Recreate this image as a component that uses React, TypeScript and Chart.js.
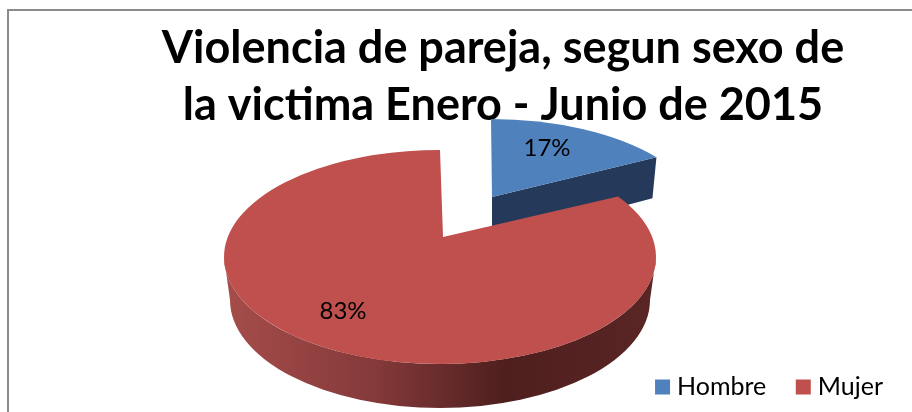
import React, { useEffect, useRef } from "react";
import { Chart, registerables } from "chart.js";

Chart.register(...registerables);

const categories = ["Hombre", "Mujer"];
const shares = [17, 83];
const faceColors = ["#4F81BD", "#C0504D"];
const titleLines = ["Violencia de pareja, segun sexo de", "la victima Enero - Junio de 2015"];

// Projection of each flat slice onto the tilted, exploded 3D view (Excel-like perspective).
const sliceViews = [
  { cx: 491, cy: 226, rx: 216, ry: 107, tipX: 492, tipY: 197, warp: 0.655, labelX: 547, labelY: 148 },
  { cx: 440, cy: 257, rx: 216, ry: 107, tipX: 443, tipY: 237, warp: 0.8, labelX: 343, labelY: 311 },
];

const project = (theta: number, warp: number) => Math.atan2(warp * Math.sin(theta), Math.cos(theta));
const toCanvas = (theta: number, warp: number) => {
  let phi = project(theta, warp);
  if (theta > 0 && phi < 0) phi += Math.PI * 2;
  return phi - Math.PI / 2;
};

const piePlugin = {
  id: "tiltedPie",
  beforeDraw(chart: any) {
    const { ctx } = chart;
    ctx.save();
    ctx.strokeStyle = "#8C8C8C";
    ctx.lineWidth = 2;
    ctx.beginPath();
    ctx.moveTo(8, 412);
    ctx.lineTo(8, 10);
    ctx.lineTo(912, 10);
    ctx.stroke();
    ctx.restore();
    const legend = chart.legend;
    legend.top = 339.5;
    legend.right = 918;
  },
  beforeDatasetsDraw(chart: any) {
    const { ctx } = chart;
    const arcs = chart.getDatasetMeta(0).data;
    arcs.forEach((arc: any, i: number) => {
      const v = sliceViews[i];
      const color = chart.data.datasets[0].backgroundColor[i];
      const a0 = arc.startAngle + Math.PI / 2;
      const a1 = arc.endAngle + Math.PI / 2;
      const c0 = toCanvas(a0, v.warp);
      const c1 = toCanvas(a1, v.warp);
      ctx.save();
      if (i === 0) {
        // radial side wall of the small slice
        const ex = v.cx + v.rx * Math.cos(c1);
        const ey = v.cy + v.ry * Math.sin(c1);
        ctx.fillStyle = "#253A5A";
        ctx.beginPath();
        ctx.moveTo(v.tipX, v.tipY);
        ctx.lineTo(ex, ey);
        ctx.lineTo(ex - 4, ey + 41);
        ctx.lineTo(v.tipX, v.tipY + 44);
        ctx.closePath();
        ctx.fill();
      } else {
        // rim of the large slice
        const g = ctx.createLinearGradient(v.cx - v.rx, 0, v.cx + v.rx, 0);
        g.addColorStop(0, "#A54D4B");
        g.addColorStop(0.35, "#85393A");
        g.addColorStop(0.65, "#4E1F1E");
        g.addColorStop(1, "#5A2525");
        ctx.fillStyle = g;
        ctx.beginPath();
        ctx.ellipse(v.cx, v.cy, v.rx, v.ry, 0, 0, Math.PI);
        ctx.ellipse(v.cx, v.cy + 43, v.rx - 6, v.ry + 1, 0, Math.PI, 0, true);
        ctx.closePath();
        ctx.fill();
      }
      ctx.fillStyle = color;
      ctx.beginPath();
      ctx.moveTo(v.tipX, v.tipY);
      ctx.ellipse(v.cx, v.cy, v.rx, v.ry, 0, c0, c1);
      ctx.closePath();
      ctx.fill();
      ctx.restore();
    });
    return false;
  },
  afterDraw(chart: any) {
    const { ctx } = chart;
    const values = chart.data.datasets[0].data as number[];
    const total = values.reduce((s, x) => s + x, 0);
    ctx.save();
    ctx.fillStyle = "#000";
    ctx.font = "24px Lato";
    ctx.textAlign = "center";
    ctx.textBaseline = "middle";
    values.forEach((x, i) => {
      ctx.fillText(`${Math.round((x / total) * 100)}%`, sliceViews[i].labelX, sliceViews[i].labelY);
    });
    ctx.restore();
  },
};

export default function App() {
  const ref = useRef<HTMLCanvasElement>(null);
  useEffect(() => {
    const chart = new Chart(ref.current!, {
      type: "pie",
      data: {
        labels: categories,
        datasets: [{ data: shares, backgroundColor: faceColors, borderWidth: 0 }],
      },
      options: {
        responsive: false,
        animation: false,
        layout: { padding: { left: 94, top: 20 } },
        plugins: {
          tooltip: { enabled: false },
          title: {
            display: true,
            text: titleLines,
            color: "#000",
            font: { family: "Lato", size: 45, weight: "bold", lineHeight: 1.27 },
            padding: 0,
          },
          legend: {
            position: "bottom",
            align: "end",
            labels: {
              usePointStyle: true,
              pointStyle: "rect",
              boxWidth: 4,
              boxHeight: 15,
              padding: 35,
              color: "#000",
              font: { family: "Lato", size: 25 },
            },
          },
        },
      },
      plugins: [piePlugin],
    } as any);
    return () => chart.destroy();
  }, []);
  return (
    <div style={{ position: "fixed", left: 0, top: 0, width: 912, height: 412, overflow: "hidden", background: "#fff" }}>
      <canvas ref={ref} width={912} height={412} style={{ display: "block" }} />
    </div>
  );
}
